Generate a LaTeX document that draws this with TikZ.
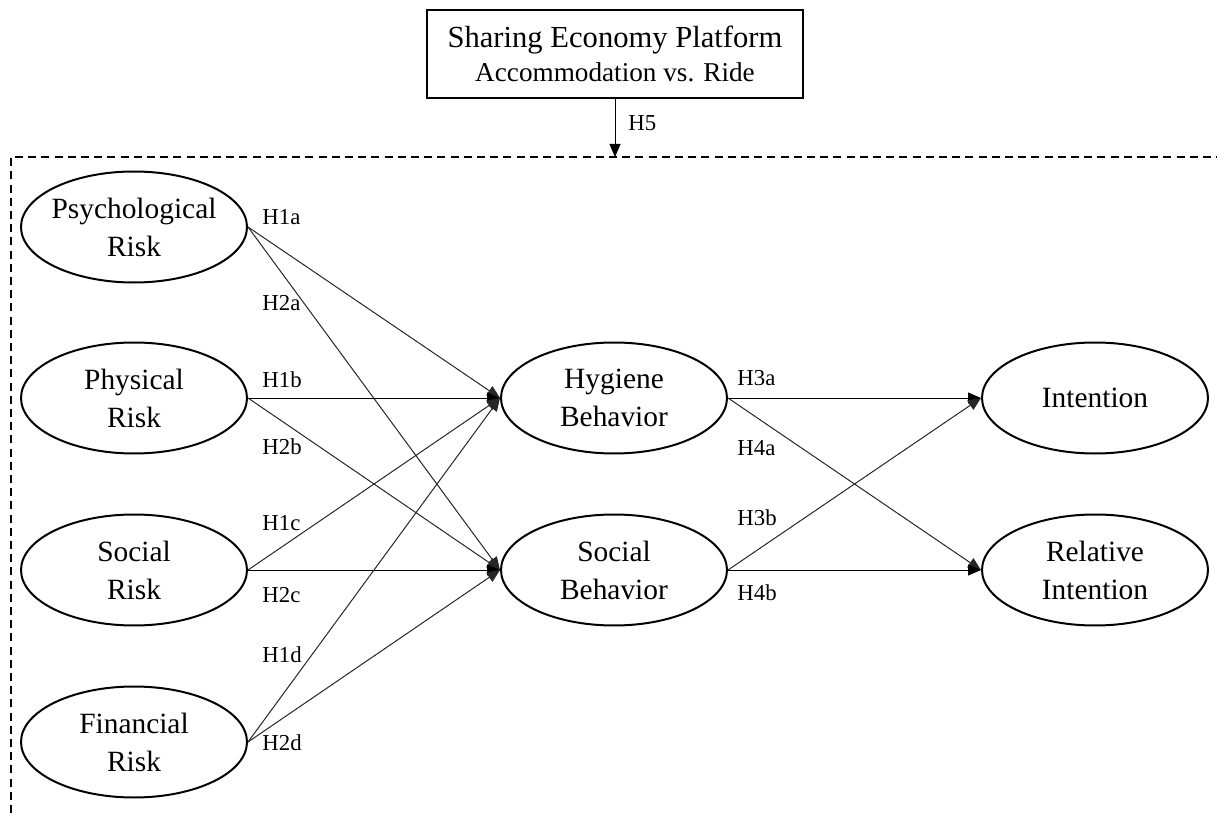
\documentclass[tikz,border=0pt]{standalone}
\usepackage{fontspec}
\setmainfont{Liberation Serif}
\usetikzlibrary{shapes.geometric,arrows.meta}
\tikzset{
  construct/.style={ellipse,draw,line width=1pt,minimum width=113pt,minimum height=55.5pt,
    inner xsep=-6pt,inner ysep=0pt,align=center,font=\fontsize{14.7}{19}\selectfont},
  hyp/.style={anchor=west,inner sep=0pt,font=\fontsize{11.4}{13}\selectfont},
  path/.style={line width=0.5pt,draw=black!85,-{Triangle[length=6.5pt,width=5.5pt]}},
  frame/.style={line width=1pt,dash pattern=on 4pt off 2.6pt}
}
\begin{document}
\begin{tikzpicture}[x=0.5pt,y=-0.5pt]
\useasboundingbox (0,0) rectangle (1217,813);

% moderator box
\node[draw,line width=1pt,minimum width=188pt,minimum height=44pt,align=center,inner sep=0pt]
  (plat) at (615,54) {{\fontsize{15.3}{17}\selectfont Sharing Economy Platform}\\[3pt]
  {\fontsize{13.6}{17}\selectfont Accommodation vs. Ride}};
\coordinate (mod) at (615,157);
\draw[path,draw=black] (plat.south) -- (mod);
\node[hyp] (h5) at (628,123) {H5};

% dashed boundary of the moderated model
\coordinate (fb) at (11,813);
\coordinate (fc) at (11,157);
\coordinate (fr) at (1217,157);
\draw[frame] (fb) -- (fc) -- (fr);

% risk perceptions
\node[construct] (psy) at (134,227) {Psychological\\Risk};
\node[construct] (phy) at (134,398) {Physical\\Risk};
\node[construct] (soc) at (134,570) {Social\\Risk};
\node[construct] (fin) at (134,742) {Financial\\Risk};

% behaviours
\node[construct] (hyg) at (614,398) {Hygiene\\Behavior};
\node[construct] (sb) at (614,570) {Social\\Behavior};

% outcomes
\node[construct] (int) at (1095,398) {Intention};
\node[construct] (rel) at (1095,570) {Relative\\Intention};

% paths
\draw[path] (psy.east) -- (hyg.west);
\draw[path] (psy.east) -- (sb.west);
\draw[path,draw=black] (phy.east) -- (hyg.west);
\draw[path] (phy.east) -- (sb.west);
\draw[path] (soc.east) -- (hyg.west);
\draw[path,draw=black] (soc.east) -- (sb.west);
\draw[path] (fin.east) -- (hyg.west);
\draw[path] (fin.east) -- (sb.west);
\draw[path,draw=black] (hyg.east) -- (int.west);
\draw[path] (hyg.east) -- (rel.west);
\draw[path] (sb.east) -- (int.west);
\draw[path,draw=black] (sb.east) -- (rel.west);

% hypothesis labels
\node[hyp] (l1a) at (262,217) {H1a};
\node[hyp] (l2a) at (262,303) {H2a};
\node[hyp] (l1b) at (262,380) {H1b};
\node[hyp] (l2b) at (262,447) {H2b};
\node[hyp] (l1c) at (262,523) {H1c};
\node[hyp] (l2c) at (262,595) {H2c};
\node[hyp] (l1d) at (262,655) {H1d};
\node[hyp] (l2d) at (262,743) {H2d};
\node[hyp] (l3a) at (737,378) {H3a};
\node[hyp] (l4a) at (737,448) {H4a};
\node[hyp] (l3b) at (737,518) {H3b};
\node[hyp] (l4b) at (737,593) {H4b};
\end{tikzpicture}
\end{document}
